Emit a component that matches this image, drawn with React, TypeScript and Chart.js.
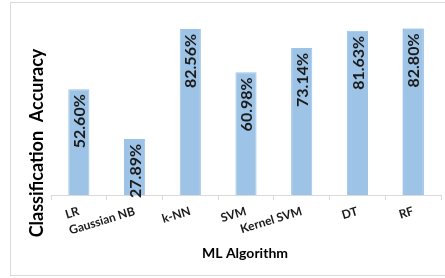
import React, { useEffect, useRef } from "react";
import { Chart, registerables } from "chart.js";

Chart.register(...registerables);

const categories = ["LR", "Gaussian NB", "k-NN", "SVM", "Kernel SVM", "DT", "RF"];
const accuracy = [52.6, 27.89, 82.56, 60.98, 73.14, 81.63, 82.8];
const xTitle = "ML Algorithm";
const yTitle = "Classification  Accuracy";

const FONT = "Lato, 'Open Sans', sans-serif";

const decorPlugin = {
  id: "decor",
  beforeDraw(chart: any) {
    const ctx = chart.ctx;
    ctx.save();
    ctx.strokeStyle = "#d9d9d9";
    ctx.lineWidth = 1;
    ctx.strokeRect(10.5, 2.5, 450, 273);
    ctx.restore();
  },
  afterDraw(chart: any) {
    const ctx = chart.ctx;
    const meta = chart.getDatasetMeta(0);
    ctx.save();
    ctx.fillStyle = "#1a1a1a";
    ctx.font = `bold 16px ${FONT}`;
    ctx.textAlign = "right";
    ctx.textBaseline = "middle";
    meta.data.forEach((bar: any, i: number) => {
      ctx.save();
      ctx.translate(bar.x + 1, bar.y + 5);
      ctx.rotate(-Math.PI / 2);
      ctx.fillText(accuracy[i].toFixed(2) + "%", 0, 0);
      ctx.restore();
    });
    // axis titles
    ctx.fillStyle = "#000";
    ctx.textAlign = "center";
    ctx.font = `bold 14px ${FONT}`;
    ctx.fillText(xTitle, 245, 253);
    ctx.save();
    ctx.translate(37, 143);
    ctx.rotate(-Math.PI / 2);
    ctx.font = `bold 18px ${FONT}`;
    ctx.fillText(yTitle, 0, 0);
    ctx.restore();
    ctx.restore();
  },
};

export default function App() {
  const ref = useRef<HTMLCanvasElement | null>(null);
  useEffect(() => {
    document.body.style.margin = "0";
    const chart = new Chart(ref.current as HTMLCanvasElement, {
      type: "bar",
      data: {
        labels: categories,
        datasets: [
          {
            data: accuracy,
            backgroundColor: "#9dc3e6",
            borderColor: categories.map((_, i) => (i === categories.length - 1 ? "#5b9bd5" : "#9dc3e6")),
            borderWidth: 1,
            categoryPercentage: 1,
            barPercentage: 0.38,
          },
        ],
      },
      options: {
        animation: false,
        responsive: false,
        maintainAspectRatio: false,
        layout: { padding: { left: 51, right: 4, top: 14, bottom: 0 } },
        plugins: { legend: { display: false }, tooltip: { enabled: false } },
        scales: {
          x: {
            grid: { drawOnChartArea: false, drawTicks: true, tickLength: 5, color: "#d9d9d9" },
            border: { color: "#d9d9d9" },
            ticks: {
              autoSkip: false,
              minRotation: 17,
              maxRotation: 17,
              color: "#1a1a1a",
              font: { family: FONT, size: 12, weight: "bold" },
              padding: 4,
            },
            afterFit: (scale: any) => {
              scale.height = 83;
            },
          },
          y: {
            display: false,
            min: 0,
            max: 90,
          },
        },
      },
      plugins: [decorPlugin],
    });
    return () => chart.destroy();
  }, []);
  return <canvas ref={ref} width={445} height={278} style={{ display: "block" }} />;
}
